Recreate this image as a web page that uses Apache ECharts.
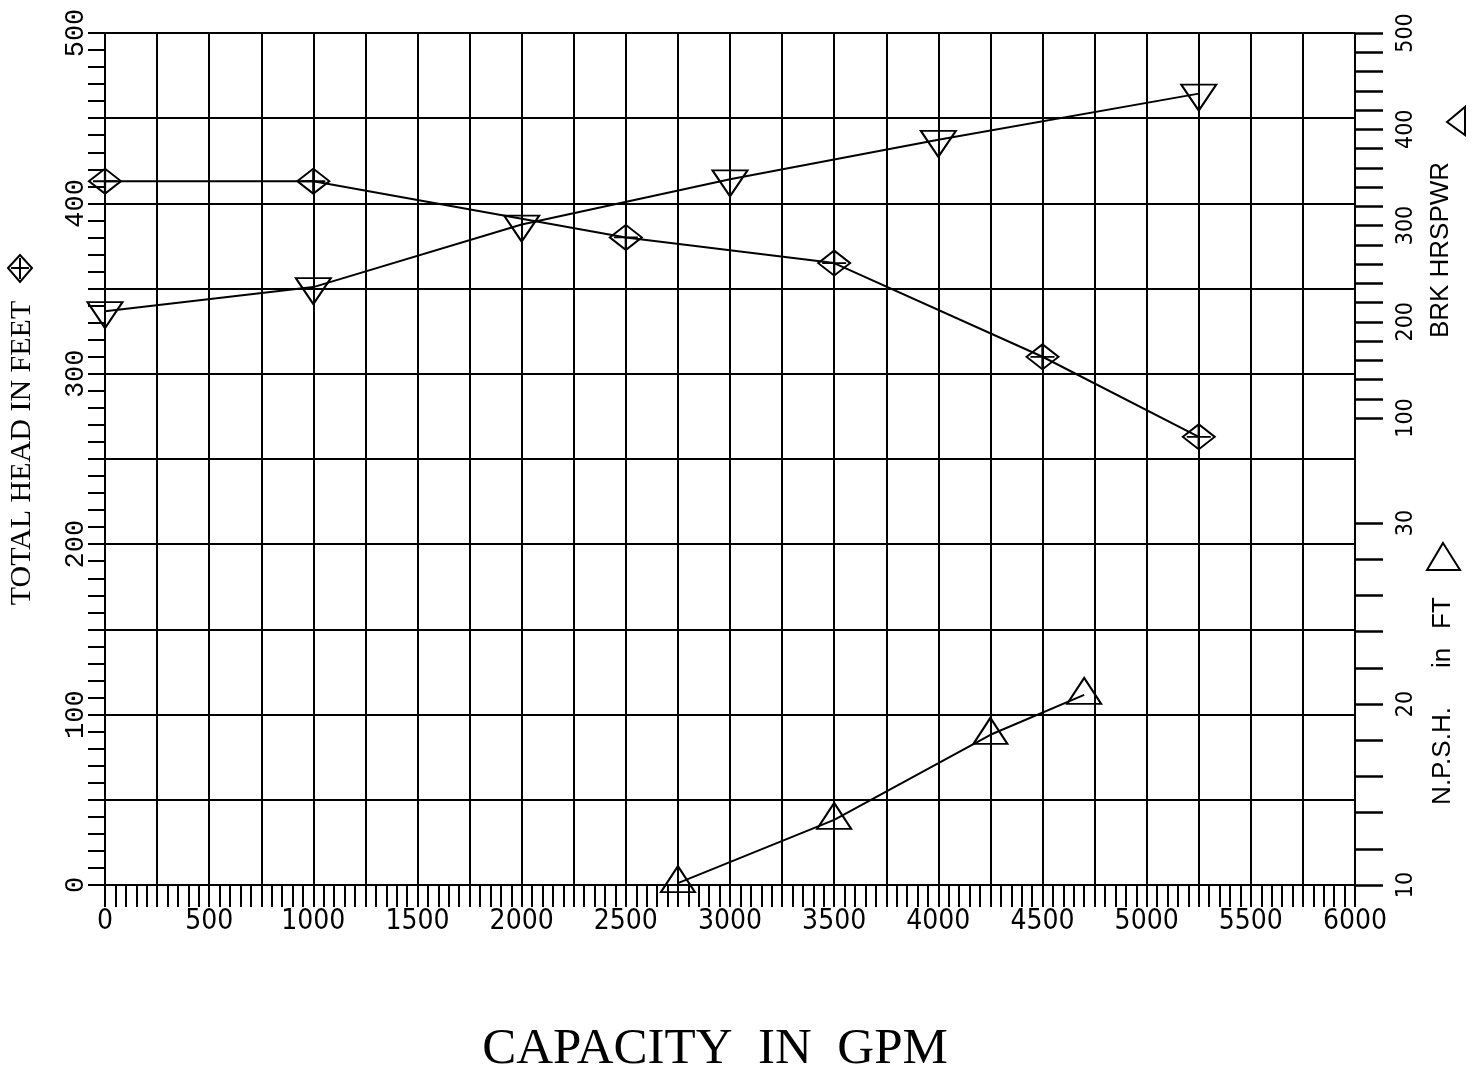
<!DOCTYPE html>
<html>
<head>
<meta charset="utf-8">
<script src="https://cdn.jsdelivr.net/npm/echarts@6/dist/echarts.min.js"></script>
<style>
html,body{margin:0;padding:0;background:#fff;}
#chart{width:1472px;height:1074px;}
</style>
</head>
<body>
<div id="chart"></div>
<script>
// ---- data ----
const headFlow = [0, 1000, 2500, 3500, 4500, 5250];
const headFeet = [413, 413, 380, 365, 310, 263];
const bhpFlow = [0, 1000, 2000, 3000, 4000, 5250];
const bhpValues = [211, 236, 301, 348, 389, 437];
const npshFlow = [2750, 3500, 4250, 4700];
const npshFeet = [10.1, 13.6, 18.3, 20.5];
const xLabelStep = 500;
const headLabelStep = 100;
const bhpLabelStep = 100;
const npshLabelStep = 10;

const zip = (xs, ys) => xs.map((x, i) => [x, ys[i]]);
const BLK = '#000';
const NARROW = "'Liberation Sans Narrow', 'DejaVu Sans Condensed', 'Roboto Condensed', 'Liberation Sans', sans-serif";

const diamondPath = 'path://M0,12 L16,0 L32,12 L16,24 Z M4,12 L28,12 M16,2 L16,22';
const downTri = 'path://M0,0 L32,0 L16,26 Z';
const upTri = 'path://M16,0 L32,26 L0,26 Z';

const chart = echarts.init(document.getElementById('chart'), null, {renderer: 'canvas'});

const hiddenX = (g) => ({gridIndex: g, type: 'value', min: 0, max: 6000, show: false});

const option = {
  animation: false,
  backgroundColor: '#fff',
  grid: [
    {left: 105, top: 33, width: 1250, height: 852},
    {left: 105, top: 33, width: 1250, height: 385},
    {left: 105, top: 523, width: 1250, height: 362}
  ],
  xAxis: [
    {
      gridIndex: 0, type: 'value', min: 0, max: 6000, interval: 250,
      axisLine: {show: true, onZero: false, lineStyle: {color: BLK, width: 2}},
      axisTick: {show: true, length: 22, lineStyle: {color: BLK, width: 2}},
      minorTick: {show: true, splitNumber: 5, length: 22, lineStyle: {color: BLK, width: 2}},
      splitLine: {show: true, lineStyle: {color: BLK, width: 2}},
      axisLabel: {
        margin: 23, color: BLK, fontSize: 28, fontFamily: NARROW,
        formatter: v => (v % xLabelStep === 0 ? String(v) : '')
      }
    },
    hiddenX(1), hiddenX(2)
  ],
  yAxis: [
    {
      gridIndex: 0, type: 'value', position: 'left', min: 0, max: 500, interval: 50,
      axisLine: {show: true, onZero: false, lineStyle: {color: BLK, width: 2}},
      axisTick: {show: true, length: 17, lineStyle: {color: BLK, width: 2}},
      minorTick: {show: true, splitNumber: 5, length: 17, lineStyle: {color: BLK, width: 2}},
      splitLine: {show: true, lineStyle: {color: BLK, width: 2}},
      axisLabel: {
        rotate: 90, margin: 16, color: BLK, fontSize: 27, fontFamily: 'Liberation Mono',
        formatter: v => (v % headLabelStep === 0 ? String(v) : '')
      }
    },
    {
      gridIndex: 1, type: 'value', position: 'right', min: 100, max: 500, interval: 20,
      axisLine: {show: false, onZero: false},
      axisTick: {show: true, length: 28, lineStyle: {color: BLK, width: 2.5}},
      splitLine: {show: false},
      axisLabel: {
        rotate: 90, margin: 40, color: BLK, fontSize: 23, fontFamily: NARROW,
        formatter: v => (v % bhpLabelStep === 0 ? String(v) : '')
      }
    },
    {
      gridIndex: 2, type: 'value', position: 'right', min: 10, max: 30, interval: 2,
      axisLine: {show: false, onZero: false},
      axisTick: {show: true, length: 28, lineStyle: {color: BLK, width: 2.5}},
      splitLine: {show: false},
      axisLabel: {
        rotate: 90, margin: 40, color: BLK, fontSize: 23, fontFamily: NARROW,
        formatter: v => (v % npshLabelStep === 0 ? String(v) : '')
      }
    }
  ],
  series: [
    {
      name: 'TOTAL HEAD', type: 'line', xAxisIndex: 0, yAxisIndex: 0,
      data: zip(headFlow, headFeet),
      symbol: diamondPath, symbolSize: [32, 25],
      lineStyle: {color: BLK, width: 2},
      itemStyle: {color: 'rgba(255,255,255,0)', borderColor: BLK, borderWidth: 2}
    },
    {
      name: 'BRK HRSPWR', type: 'line', xAxisIndex: 1, yAxisIndex: 1,
      data: zip(bhpFlow, bhpValues),
      symbol: downTri, symbolSize: [35, 26], symbolOffset: [0, 4],
      lineStyle: {color: BLK, width: 2},
      itemStyle: {color: 'rgba(255,255,255,0)', borderColor: BLK, borderWidth: 2}
    },
    {
      name: 'N.P.S.H.', type: 'line', xAxisIndex: 2, yAxisIndex: 2,
      data: zip(npshFlow, npshFeet),
      symbol: upTri, symbolSize: [34, 26], symbolOffset: [0, -4],
      lineStyle: {color: BLK, width: 2},
      itemStyle: {color: 'rgba(255,255,255,0)', borderColor: BLK, borderWidth: 2}
    }
  ],
  graphic: [
    {type: 'text', x: 22, y: 453, rotation: Math.PI / 2,
     style: {text: 'TOTAL HEAD IN FEET', font: '30px "Liberation Serif"', fill: BLK, textAlign: 'center', textVerticalAlign: 'middle'}},
    {type: 'polygon', shape: {points: [[8, 268], [20, 255], [32, 268], [20, 282]]},
     style: {fill: 'none', stroke: BLK, lineWidth: 2}},
    {type: 'polyline', shape: {points: [[11, 268], [29, 268]]}, style: {stroke: BLK, lineWidth: 2}},
    {type: 'polyline', shape: {points: [[20, 258], [20, 279]]}, style: {stroke: BLK, lineWidth: 2}},

    {type: 'text', x: 1441, y: 250, rotation: Math.PI / 2,
     style: {text: 'BRK HRSPWR', font: '26px "Liberation Sans"', fill: BLK, textAlign: 'center', textVerticalAlign: 'middle'}},
    {type: 'polygon', shape: {points: [[1447, 122], [1465, 107], [1465, 135]]},
     style: {fill: 'none', stroke: BLK, lineWidth: 2}},

    {type: 'text', x: 1443, y: 756, rotation: Math.PI / 2,
     style: {text: 'N.P.S.H.', font: '26px "Liberation Sans"', fill: BLK, textAlign: 'center', textVerticalAlign: 'middle'}},
    {type: 'text', x: 1443, y: 658, rotation: Math.PI / 2,
     style: {text: 'in', font: '26px "Liberation Sans"', fill: BLK, textAlign: 'center', textVerticalAlign: 'middle'}},
    {type: 'text', x: 1443, y: 613, rotation: Math.PI / 2,
     style: {text: 'FT', font: '26px "Liberation Sans"', fill: BLK, textAlign: 'center', textVerticalAlign: 'middle'}},
    {type: 'polygon', shape: {points: [[1443, 543], [1460, 570], [1427, 570]]},
     style: {fill: 'none', stroke: BLK, lineWidth: 2}},

    {type: 'text', x: 715, y: 1050,
     style: {text: 'CAPACITY  IN  GPM', font: '51px "Liberation Serif"', fill: BLK, textAlign: 'center', textVerticalAlign: 'middle'}}
  ]
};
chart.setOption(option);
</script>
</body>
</html>
